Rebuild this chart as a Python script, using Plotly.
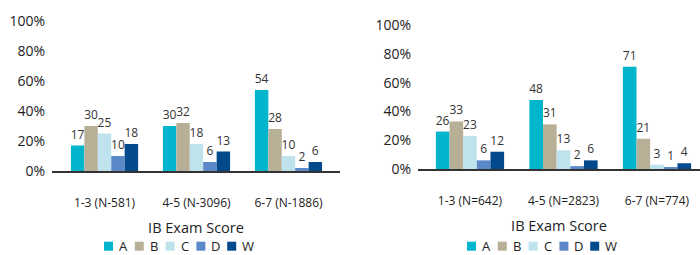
import plotly.graph_objects as go

# ---- data ----
categories_left = ["1-3 (N-581)", "4-5 (N-3096)", "6-7 (N-1886)"]
categories_right = ["1-3 (N=642)", "4-5 (N=2823)", "6-7 (N=774)"]
series_names = ["A", "B", "C", "D", "W"]

left_A = [17, 30, 54]
left_B = [30, 32, 28]
left_C = [25, 18, 10]
left_D = [10, 6, 2]
left_W = [18, 13, 6]

right_A = [26, 48, 71]
right_B = [33, 31, 21]
right_C = [23, 13, 3]
right_D = [6, 2, 1]
right_W = [12, 6, 4]

y_ticks = [0, 20, 40, 60, 80, 100]
y_tick_labels = [f"{v}%" for v in y_ticks]
x_title = "IB Exam Score"

# ---- styles ----
colors = ["#00B5CC", "#B8AF97", "#BEE3EC", "#5B88C9", "#034A8C"]
W, H = 700, 255
FONT = "Open Sans"
TXT = "#222222"

left_vals = [left_A, left_B, left_C, left_D, left_W]
right_vals = [right_A, right_B, right_C, right_D, right_W]

fig = go.Figure()
for name, col, vals in zip(series_names, colors, left_vals):
    fig.add_trace(go.Bar(
        x=categories_left, y=vals, name=name, marker=dict(color=col, line=dict(width=0)),
        text=vals, textposition="outside", constraintext="none", cliponaxis=False,
        textfont=dict(size=12, color="#333333", family=FONT),
        xaxis="x", yaxis="y", showlegend=False))
for name, col, vals in zip(series_names, colors, right_vals):
    fig.add_trace(go.Bar(
        x=categories_right, y=vals, name=name, marker=dict(color=col, line=dict(width=0)),
        text=vals, textposition="outside", constraintext="none", cliponaxis=False,
        textfont=dict(size=12, color="#333333", family=FONT),
        xaxis="x2", yaxis="y2", showlegend=False))

def px_x(p):
    return p / W

def px_y(p):
    return 1 - p / H

xcommon = dict(showline=True, linecolor="#333333", linewidth=2, showgrid=False,
               zeroline=False, ticks="", ticklabelstandoff=20, automargin=False,
               tickfont=dict(size=12, color=TXT, family=FONT),
               title=dict(text=x_title, font=dict(size=14.5, color=TXT, family=FONT), standoff=12))
ycommon = dict(range=[0, 100], tickmode="array", tickvals=y_ticks, ticktext=y_tick_labels,
               showgrid=False, zeroline=False, showline=False, ticks="",
               ticklabelstandoff=6, automargin=False,
               tickfont=dict(size=14, color=TXT, family=FONT))

fig.update_layout(
    width=W, height=H,
    margin=dict(l=0, r=0, t=0, b=0, autoexpand=False),
    paper_bgcolor="white", plot_bgcolor="white",
    barmode="group", bargap=0.27, bargroupgap=0,
    font=dict(family=FONT, color=TXT),
    xaxis=dict(domain=[px_x(52), px_x(340)], range=[-0.571, 2.56], anchor="y", **xcommon),
    yaxis=dict(domain=[px_y(171), px_y(21)], anchor="x", **ycommon),
    xaxis2=dict(domain=[px_x(418), 1.0], range=[-0.556, 2.46], anchor="y2", **xcommon),
    yaxis2=dict(domain=[px_y(169), px_y(25)], anchor="x2", **ycommon),
)

# ---- manual legends ----
legend_starts = [104, 467]
for start in legend_starts:
    for i, (name, col) in enumerate(zip(series_names, colors)):
        x0 = start + i * 30.8
        fig.add_shape(type="rect", xref="paper", yref="paper",
                      x0=px_x(x0), x1=px_x(x0 + 9), y0=px_y(250.7), y1=px_y(241.7),
                      fillcolor=col, line=dict(width=0))
        fig.add_annotation(x=px_x(x0 + 13), y=px_y(246), xref="paper", yref="paper",
                           text=name, showarrow=False, xanchor="left", yanchor="middle",
                           font=dict(size=13, color=TXT, family=FONT))

fig.write_html("out.html", config={"displayModeBar": False},
               post_script="document.body.style.margin='0';document.body.style.overflow='hidden';")
